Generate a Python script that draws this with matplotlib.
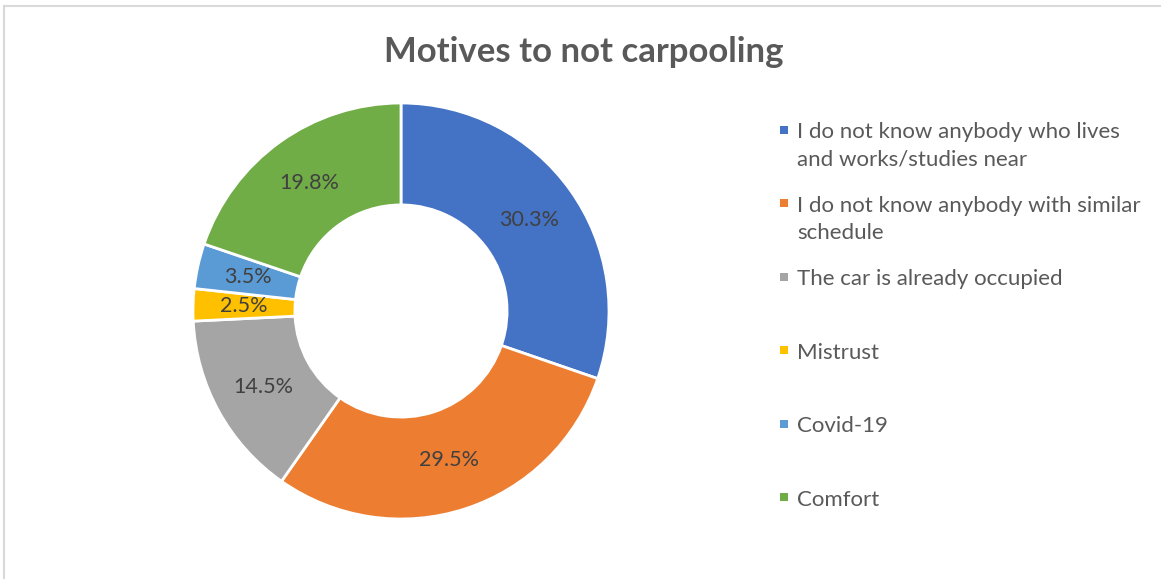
import numpy as np
import matplotlib.pyplot as plt
from matplotlib.lines import Line2D
from matplotlib.patches import Rectangle

plt.rcParams['font.family'] = ['Lato', 'DejaVu Sans']

# share of answers per motive, clockwise from 12 o'clock
motives = [
    "I do not know anybody who lives\nand works/studies near",
    "I do not know anybody with similar\nschedule",
    "The car is already occupied",
    "Mistrust",
    "Covid-19",
    "Comfort",
]
shares = [30.3, 29.5, 14.5, 2.5, 3.5, 19.8]
colors = ["#4472C4", "#ED7D31", "#A5A5A5", "#FFC000", "#5B9BD5", "#70AD47"]

W, H = 1161, 579
fig = plt.figure(figsize=(W / 100, H / 100), dpi=100)

# pie axes: centre at (401, 311) px, outer radius 208 px
cx, cy, r = 401, 311, 208
ax = fig.add_axes([(cx - r) / W, (H - cy - r) / H, 2 * r / W, 2 * r / H])
ring = 0.49
wedges, texts = ax.pie(
    shares, colors=colors, startangle=90, counterclock=False,
    radius=1.0, wedgeprops=dict(width=ring, edgecolor="white", linewidth=2),
)
ax.set_xlim(-1, 1)
ax.set_ylim(-1, 1)
ax.set_aspect("equal")

# value labels at the middle of the ring
for w, v in zip(wedges, shares):
    mid = np.deg2rad((w.theta1 + w.theta2) / 2)
    rr = 1 - ring / 2
    ax.text(rr * np.cos(mid), rr * np.sin(mid), f"{v:.1f}%",
            ha="center", va="center", fontsize=15.5, color="#404040")

fig.text(584 / W, 1 - 52 / H, "Motives to not carpooling", ha="center",
         va="center", fontsize=25, fontweight="bold", color="#595959")

# legend drawn by hand so that each entry sits on an even grid
for i, (lab, c) in enumerate(zip(motives, colors)):
    y = 130 + 73.4 * i
    fig.patches.append(Rectangle(((784 - 4) / W, 1 - (y + 4) / H), 8 / W, 8 / H,
                                 transform=fig.transFigure, facecolor=c,
                                 edgecolor="none"))
    for j, line in enumerate(lab.split("\n")):
        fig.text(797 / W, 1 - (y + 2.5 + 27 * j) / H, line, ha="left", va="center",
                 fontsize=16, color="#595959")

# chart frame, top and left edges
fig.lines.append(Line2D([3.5 / W, 1], [1 - 5.5 / H] * 2, transform=fig.transFigure,
                        color="#D9D9D9", linewidth=1.5))
fig.lines.append(Line2D([3.5 / W] * 2, [0, 1 - 5.5 / H], transform=fig.transFigure,
                        color="#D9D9D9", linewidth=1.5))

fig.savefig("out.png", dpi=100)
